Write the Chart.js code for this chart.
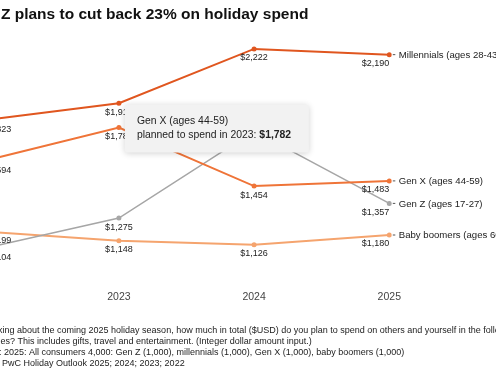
<!DOCTYPE html>
<html>
<head>
<meta charset="utf-8">
<script src="https://cdn.jsdelivr.net/npm/chart.js@4/dist/chart.umd.min.js"></script>
<style>
  html, body { margin: 0; padding: 0; background: #fff; overflow: hidden; width: 496px; height: 380px; }
  #wrap { position: absolute; left: -34px; top: 0; width: 640px; height: 380px; }
</style>
</head>
<body>
<div id="wrap"><canvas id="c"></canvas></div>
<script>
// ---- data ----
const years = ['2022', '2023', '2024', '2025'];
const millennials = [1823, 1918, 2222, 2190];
const genX = [1594, 1782, 1454, 1483];
const genZ = [1104, 1275, 1762, 1357];
const boomers = [1199, 1148, 1126, 1180];
const seriesNames = ['Millennials (ages 28-43)', 'Gen X (ages 44-59)', 'Gen Z (ages 17-27)', 'Baby boomers (ages 60-78)'];
const seriesColors = ['#e0561f', '#ef7438', '#a6a6a6', '#f5a46e'];
const title = 'Gen Z plans to cut back 23% on holiday spend';
const notes = [
  'Q: Thinking about the coming 2025 holiday season, how much in total ($USD) do you plan to spend on others and yourself in the following',
  'categories? This includes gifts, travel and entertainment. (Integer dollar amount input.)',
  'Sample: 2025: All consumers 4,000: Gen Z (1,000), millennials (1,000), Gen X (1,000), baby boomers (1,000)',
  'Source: PwC Holiday Outlook 2025; 2024; 2023; 2022'
];
const tipSeries = 1, tipIndex = 1;

const FONT = '"Liberation Sans", Arial, Helvetica, sans-serif';
const fmt = v => '$' + v.toLocaleString('en-US');

const decor = {
  id: 'decor',
  afterDatasetsDraw(chart) {
    const ctx = chart.ctx;
    ctx.save();
    // title
    ctx.fillStyle = '#111';
    ctx.font = 'bold 15.5px ' + FONT;
    ctx.textAlign = 'left';
    ctx.textBaseline = 'alphabetic';
    ctx.fillText(title, 0.5, 18.5);
    // footnotes
    ctx.fillStyle = '#222';
    ctx.font = '9px ' + FONT;
    notes.forEach((t, i) => ctx.fillText(t, 2.5, 332.5 + i * 11));
    // data labels + end labels
    chart.data.datasets.forEach((ds, di) => {
      const pts = chart.getDatasetMeta(di).data;
      ctx.font = '9px ' + FONT;
      ctx.fillStyle = '#222';
      ctx.textBaseline = 'middle';
      pts.forEach((p, i) => {
        ctx.textAlign = i === 0 ? 'left' : (i === pts.length - 1 ? 'right' : 'center');
        ctx.fillText(fmt(ds.data[i]), p.x, p.y + 9);
      });
      const last = pts[pts.length - 1];
      ctx.strokeStyle = '#555';
      ctx.lineWidth = 1;
      ctx.beginPath();
      ctx.moveTo(last.x + 3.5, last.y);
      ctx.lineTo(last.x + 6, last.y);
      ctx.stroke();
      ctx.font = '9.6px ' + FONT;
      ctx.textAlign = 'left';
      ctx.fillText(seriesNames[di], last.x + 9.5, last.y + 0.5);
    });
    // tooltip
    const tp = chart.getDatasetMeta(tipSeries).data[tipIndex];
    const bx = tp.x + 6, by = tp.y - 23, bw = 184, bh = 48;
    ctx.save();
    ctx.shadowColor = 'rgba(0,0,0,0.18)';
    ctx.shadowBlur = 6;
    ctx.shadowOffsetY = 1;
    ctx.fillStyle = '#f2f2f2';
    ctx.beginPath();
    ctx.roundRect(bx, by, bw, bh, 3);
    ctx.fill();
    ctx.restore();
    ctx.fillStyle = '#222';
    ctx.textAlign = 'left';
    ctx.textBaseline = 'middle';
    ctx.font = '10.4px ' + FONT;
    ctx.fillText(seriesNames[tipSeries], bx + 12, by + 16.5);
    const pre = 'planned to spend in ' + years[tipIndex] + ': ';
    ctx.fillText(pre, bx + 12, by + 31);
    const w = ctx.measureText(pre).width;
    ctx.font = 'bold 10.4px ' + FONT;
    ctx.fillText(fmt(chart.data.datasets[tipSeries].data[tipIndex]), bx + 12 + w, by + 31);
    ctx.restore();
  }
};

const allSeries = [millennials, genX, genZ, boomers];
new Chart(document.getElementById('c'), {
  type: 'line',
  data: {
    labels: years,
    datasets: allSeries.map((d, i) => ({
      label: seriesNames[i],
      data: d,
      borderColor: seriesColors[i],
      backgroundColor: seriesColors[i],
      borderWidth: i === 2 ? 1.5 : 2,
      pointRadius: 2.5,
      pointBorderWidth: 0,
      pointHoverRadius: 2.5,
      tension: 0
    }))
  },
  options: {
    responsive: true,
    maintainAspectRatio: false,
    animation: false,
    devicePixelRatio: 1,
    events: [],
    layout: { padding: { left: 15.3, right: 216.7, top: 35, bottom: 65 } },
    plugins: { legend: { display: false }, tooltip: { enabled: false }, title: { display: false } },
    scales: {
      x: {
        offset: false,
        grid: { display: false, drawTicks: false },
        border: { display: false },
        ticks: { color: '#444', font: { family: FONT, size: 10.5 }, padding: 6, maxRotation: 0, autoSkip: false },
        afterFit: s => { s.height = 30; }
      },
      y: {
        display: false,
        min: 900,
        max: 2300
      }
    }
  },
  plugins: [decor]
});
</script>
</body>
</html>
